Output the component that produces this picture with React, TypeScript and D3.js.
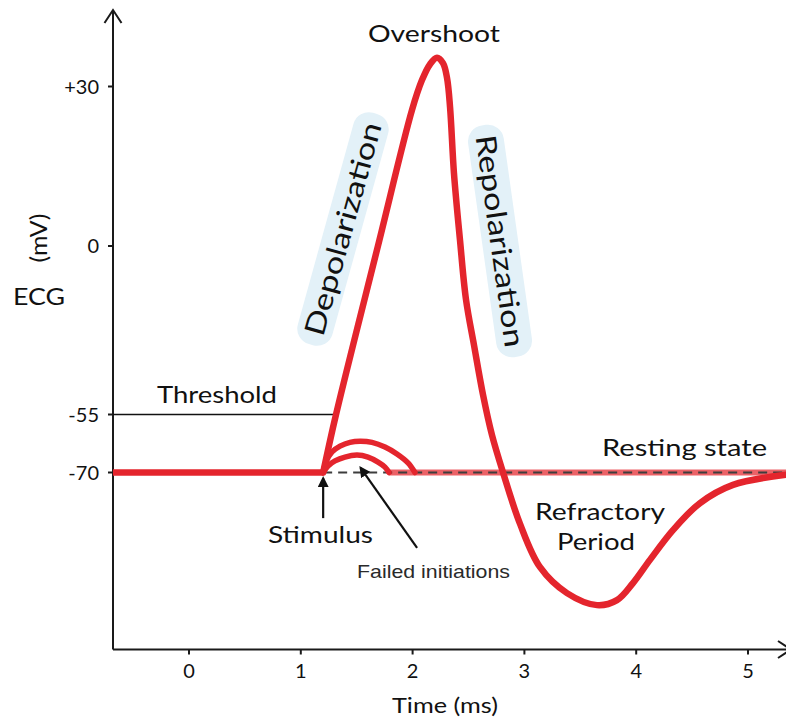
import React from "react";
import * as d3 from "d3";

// ---------- data ----------
const xTicks = [0, 1, 2, 3, 4, 5];
const yTickValues = [30, 0, -55, -70];
const yTickLabels = ["+30", "0", "-55", "-70"];

// resting baseline before stimulus (time ms, mV)
const baselineSeries: [number, number][] = [
  [-0.68, -70],
  [1.2, -70],
];

// action potential after stimulus
const spikeSeries: [number, number][] = [
  [1.2, -70],
  [1.315, -55],
  [1.69, 0],
  [1.995, 25.6],
  [2.084, 31.2],
  [2.156, 34.2],
  [2.218, 35.4],
  [2.272, 34.4],
  [2.308, 31.6],
  [2.335, 26.1],
  [2.37, 13.7],
  [2.424, 1.1],
  [2.478, -17.6],
  [2.549, -32.3],
  [2.63, -48.6],
  [2.71, -60.3],
  [2.809, -70],
  [2.961, -83.3],
  [3.14, -94.5],
  [3.381, -101.2],
  [3.649, -104.3],
  [3.828, -103.0],
  [3.971, -98.6],
  [4.123, -92.6],
  [4.329, -84.9],
  [4.571, -77.9],
  [4.866, -73.2],
  [5.34, -70.6],
];

// failed initiations (two sub-threshold bumps)
const failedLarge: [number, number][] = [
  [1.2, -70],
  [1.225, -67.3],
  [1.279, -64.7],
  [1.351, -63.2],
  [1.44, -62.2],
  [1.53, -61.9],
  [1.637, -62.2],
  [1.753, -63.4],
  [1.86, -65.2],
  [1.959, -67.5],
  [2.021, -70],
];
const failedSmall: [number, number][] = [
  [1.2, -70],
  [1.243, -68.3],
  [1.306, -67.0],
  [1.395, -66.0],
  [1.503, -65.5],
  [1.601, -66.0],
  [1.691, -67.3],
  [1.753, -68.6],
  [1.789, -70],
];

const restingSeries: [number, number][] = [
  [1.789, -70],
  [5.34, -70],
];
const restingDashed: [number, number][] = [
  [1.2, -70],
  [5.34, -70],
];
const thresholdSeries: [number, number][] = [
  [-0.68, -55],
  [1.315, -55],
];

const stimulusArrow: [number, number][] = [
  [1.2, -81.8],
  [1.2, -71.5],
];
const failedArrow: [number, number][] = [
  [2.04, -89.5],
  [1.535, -68.8],
];

// ---------- component ----------
const W = 786;
const H = 717;
const RED = "#e4252d";
const FONT = "Lato, 'Open Sans', sans-serif";

export default function App() {
  const x = d3.scaleLinear().domain([0, 5]).range([189, 748]);
  const y = d3
    .scaleLinear()
    .domain([-70, -55, 0, 30])
    .range([472.5, 414.5, 246, 86.5]);

  const axisX0 = 113;
  const axisY0 = 649.5;

  const lin = d3
    .line<[number, number]>()
    .x((d) => x(d[0]))
    .y((d) => y(d[1]));
  const smooth = d3
    .line<[number, number]>()
    .x((d) => x(d[0]))
    .y((d) => y(d[1]))
    .curve(d3.curveCatmullRom.alpha(0.5));

  const label = (
    text: string,
    px: number,
    py: number,
    size: number,
    len?: number,
    anchor: string = "middle"
  ) => (
    <text
      x={px}
      y={py}
      fontSize={size}
      textAnchor={anchor}
      fill="#111"
      fontFamily={FONT}
      {...(len ? { textLength: len, lengthAdjust: "spacingAndGlyphs" } : {})}
    >
      {text}
    </text>
  );

  return (
    <svg
      width={W}
      height={H}
      style={{ position: "absolute", left: 0, top: 0, display: "block", background: "#fff" }}
    >
      <defs>
        <marker
          id="arrowHead"
          viewBox="0 0 10 10"
          refX="8"
          refY="5"
          markerWidth="11"
          markerHeight="11"
          markerUnits="userSpaceOnUse"
          orient="auto"
        >
          <path d="M0,0 L10,5 L0,10 z" fill="#111" />
        </marker>
      </defs>
      <rect width={W} height={H} fill="#fff" />

      {/* axes */}
      <line x1={axisX0} y1={11} x2={axisX0} y2={axisY0} stroke="#1a1a1a" strokeWidth={2} />
      <line x1={axisX0} y1={axisY0} x2={790} y2={axisY0} stroke="#1a1a1a" strokeWidth={2} />
      <path
        d={`M${axisX0 - 8.5},${23} L${axisX0},${10} L${axisX0 + 8.5},${23}`}
        fill="none"
        stroke="#1a1a1a"
        strokeWidth={2}
      />
      <path
        d={`M${778},${axisY0 - 8.5} L${791},${axisY0} L${778},${axisY0 + 8.5}`}
        fill="none"
        stroke="#1a1a1a"
        strokeWidth={2}
      />

      {/* x ticks */}
      {xTicks.map((t) => (
        <g key={"xt" + t}>
          <line x1={x(t)} x2={x(t)} y1={axisY0} y2={axisY0 + 5} stroke="#1a1a1a" strokeWidth={2} />
          <text
            x={x(t)}
            y={678}
            fontSize={20}
            textAnchor="middle"
            fill="#111"
            fontFamily={FONT}
          >
            {t}
          </text>
        </g>
      ))}

      {/* y ticks */}
      {yTickValues.map((v, i) => (
        <g key={"yt" + v}>
          <line x1={axisX0 - 5} x2={axisX0} y1={y(v)} y2={y(v)} stroke="#1a1a1a" strokeWidth={2} />
          <text
            x={99}
            y={y(v)}
            dy="0.36em"
            fontSize={20}
            textAnchor="end"
            fill="#111"
            fontFamily={FONT}
          >
            {yTickLabels[i]}
          </text>
        </g>
      ))}

      {/* axis titles */}
      {label("ECG", 13, 305, 24, 52, "start")}
      <text
        transform="translate(47,238) rotate(-90)"
        fontSize={23}
        textAnchor="middle"
        fill="#111"
        fontFamily={FONT}
        textLength={49}
        lengthAdjust="spacingAndGlyphs"
      >
        (mV)
      </text>
      {label("Time (ms)", 445, 713, 22, 106)}

      {/* threshold */}
      <path d={lin(thresholdSeries) || ""} stroke="#111" strokeWidth={1.4} fill="none" />

      {/* resting state line */}
      <path
        d={lin(restingSeries) || ""}
        stroke={RED}
        strokeOpacity={0.72}
        strokeWidth={6}
        fill="none"
      />
      <path
        d={lin(restingDashed) || ""}
        stroke="#3d3d3d"
        strokeWidth={2}
        strokeDasharray="9 6"
        fill="none"
      />

      {/* failed initiations */}
      <path d={smooth(failedLarge) || ""} stroke={RED} strokeWidth={5.5} fill="none" strokeLinecap="round" />
      <path d={smooth(failedSmall) || ""} stroke={RED} strokeWidth={5.5} fill="none" strokeLinecap="round" />

      {/* action potential */}
      <path d={lin(baselineSeries) || ""} stroke={RED} strokeWidth={6.5} fill="none" />
      <path
        d={smooth(spikeSeries) || ""}
        stroke={RED}
        strokeWidth={6.5}
        fill="none"
        strokeLinejoin="round"
        strokeLinecap="round"
      />

      {/* arrows */}
      <path
        d={lin(stimulusArrow) || ""}
        stroke="#111"
        strokeWidth={2.2}
        fill="none"
        markerEnd="url(#arrowHead)"
      />
      <path
        d={lin(failedArrow) || ""}
        stroke="#111"
        strokeWidth={2.2}
        fill="none"
        markerEnd="url(#arrowHead)"
      />

      {/* Depolarization label */}
      <g transform="translate(343,229) rotate(-74.5)">
        <rect x={-120} y={-18} width={240} height={36} rx={16} fill="#e3f1f8" />
        <text
          x={0}
          y={0}
          dy="0.35em"
          fontSize={28}
          textAnchor="middle"
          fill="#111"
          fontFamily={FONT}
          textLength={220}
          lengthAdjust="spacingAndGlyphs"
        >
          Depolarization
        </text>
      </g>
      {/* Repolarization label */}
      <g transform="translate(500,241) rotate(82)">
        <rect x={-117} y={-18} width={234} height={36} rx={16} fill="#e3f1f8" />
        <text
          x={0}
          y={0}
          dy="0.35em"
          fontSize={28}
          textAnchor="middle"
          fill="#111"
          fontFamily={FONT}
          textLength={214}
          lengthAdjust="spacingAndGlyphs"
        >
          Repolarization
        </text>
      </g>

      {/* annotations */}
      {label("Overshoot", 434, 42, 23, 132)}
      {label("Threshold", 157, 403, 24, 120, "start")}
      {label("Resting state", 602, 456, 24, 165, "start")}
      {label("Refractory", 600, 520, 23, 130)}
      {label("Period", 596, 550, 23, 78)}
      {label("Stimulus", 268, 543, 23, 105, "start")}
      <text
        x={357}
        y={578}
        fontSize={19}
        fill="#2a2a2a"
        fontFamily="'Liberation Sans', Arial, sans-serif"
        textLength={153}
        lengthAdjust="spacingAndGlyphs"
      >
        Failed initiations
      </text>
    </svg>
  );
}
